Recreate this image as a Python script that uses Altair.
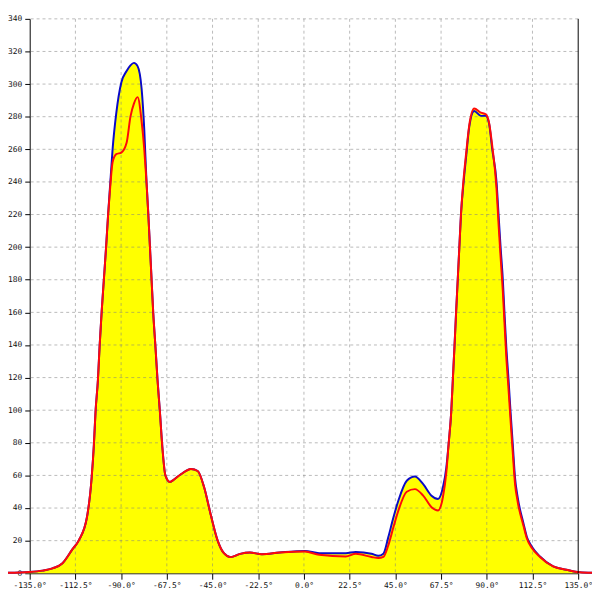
import altair as alt
import pandas as pd

# angle (degrees)
x_deg = [-149.6, -135.0, -128.7, -123.8, -119.0, -114.1, -110.7, -106.8, -104.5, -103.4,
         -102.6, -101.4, -100.6, -99.6, -98.5, -97.4, -96.4, -95.3, -94.2, -92.4,
         -89.9, -87.3, -85.4, -83.7, -81.9, -79.9, -78.6, -77.5, -76.6, -75.8,
         -75.0, -74.2, -73.1, -72.1, -70.9, -69.8, -68.2, -66.0, -64.5, -60.6,
         -55.6, -52.3, -49.1, -46.0, -42.6, -39.4, -36.1, -31.4, -26.6, -20.7,
         -12.0, 0.5, 7.5, 20.6, 25.5, 33.2, 36.6, 39.1, 41.5, 44.0,
         46.5, 50.6, 54.6, 58.7, 62.8, 66.0, 68.4, 70.1, 71.2, 72.5,
         73.3, 74.1, 74.9, 75.7, 76.5, 77.3, 78.6, 79.8, 81.4, 83.8,
         87.1, 89.5, 91.1, 92.7, 94.8, 95.8, 96.8, 97.9, 98.7, 99.6,
         100.7, 101.7, 102.8, 103.9, 105.2, 108.1, 109.7, 112.2, 116.2, 122.7,
         129.2, 135.7, 142.2]

blue_vals = [0.2, 0.8, 1.6, 3.0, 6.0, 14.5, 20.5, 34.5, 58.7, 79,
             99, 119, 139, 160, 180, 200, 220, 240, 260, 282,
             301, 308, 311.5, 313, 311, 297, 272, 240, 220, 200,
             180, 160, 139, 119, 99, 79, 60, 56, 57, 60.7,
             64, 62.7, 52.6, 36.5, 20.5, 12.3, 9.9, 11.9, 12.7, 11.7,
             12.7, 13.7, 12.3, 12.3, 13.1, 12.0, 10.7, 12.0, 22.0, 34.0,
             44.6, 56.7, 59.3, 54.6, 47.6, 45.6, 52.6, 65, 79, 99,
             119, 139, 160, 180, 200, 220, 240, 255, 274, 283.5,
             280.5, 280.5, 276, 260, 240, 220, 200, 180, 160, 139,
             119, 99, 79, 58.7, 46.6, 30.4, 22.4, 16.3, 10.3, 4.2,
             2.2, 0.6, 0.3]

red_vals = [0.2, 0.8, 1.6, 3.0, 6.0, 14.5, 20.5, 34.5, 58.7, 79,
            99, 119, 139, 160, 180, 200, 220, 238, 252, 257,
            258, 264, 280, 288, 292, 277, 260, 240, 220, 200,
            180, 160, 139, 119, 99, 79, 60, 56, 57, 60.7,
            64, 62.7, 52.6, 36.5, 20.5, 12.3, 9.9, 11.9, 12.7, 11.7,
            12.7, 13.3, 11.3, 10.3, 11.9, 10.0, 9.3, 10.0, 17.0, 28.0,
            38.5, 50.0, 51.6, 47.6, 40.5, 38.5, 46.6, 62, 79, 99,
            119, 139, 160, 180, 200, 220, 242, 257, 275, 285,
            282.5, 281.5, 276.5, 262, 236, 214, 194, 173, 154, 133,
            113, 94, 74, 55, 44, 29, 21.5, 15.5, 10.0, 4.2,
            2.2, 0.6, 0.3]

x_ticks = [-135.0, -112.5, -90.0, -67.5, -45.0, -22.5, 0.0, 22.5, 45.0, 67.5, 90.0, 112.5, 135.0]
y_ticks = list(range(0, 341, 20))

df = pd.DataFrame({"x": x_deg, "blue": blue_vals, "red": red_vals})
df["top"] = df[["blue", "red"]].max(axis=1)

FONT = "DejaVu Sans Mono"

xscale = alt.Scale(domain=[-135, 135], nice=False, zero=False)
yscale = alt.Scale(domain=[0, 340], nice=False, zero=False)

xaxis = alt.Axis(values=x_ticks, grid=False, domainColor="black", tickColor="black",
                 tickSize=6, labelPadding=2, labelFont=FONT, labelFontSize=8,
                 labelColor="#111", title=None, labelOverlap=False, labelFlush=False,
                 labelExpr="(datum.value < 0 ? '-' : '') + format(abs(datum.value), '.1f') + '°'")
yaxis = alt.Axis(values=y_ticks, grid=False, domainColor="black", tickColor="black",
                 tickSize=5, labelPadding=3, labelFont=FONT, labelFontSize=8,
                 labelColor="#111", title=None, labelOverlap=False, labelFlush=False)

area = alt.Chart(df).mark_area(color="#ffff00", interpolate="monotone").encode(
    x=alt.X("x:Q", scale=xscale, axis=xaxis),
    y=alt.Y("top:Q", scale=yscale, axis=yaxis),
)

vgrid = alt.Chart(pd.DataFrame({"v": x_ticks[1:-1]})).mark_rule(
    color="#808080", opacity=0.55, strokeDash=[3, 3], strokeWidth=1
).encode(x=alt.X("v:Q", scale=xscale, axis=xaxis))

hgrid = alt.Chart(pd.DataFrame({"h": y_ticks[1:]})).mark_rule(
    color="#808080", opacity=0.55, strokeDash=[3, 3], strokeWidth=1
).encode(y=alt.Y("h:Q", scale=yscale, axis=yaxis))

blue_line = alt.Chart(df).mark_line(color="#0a0ac8", strokeWidth=2, interpolate="monotone").encode(
    x=alt.X("x:Q", scale=xscale, axis=xaxis), y=alt.Y("blue:Q", scale=yscale, axis=yaxis))
red_line = alt.Chart(df).mark_line(color="#ff0a0a", strokeWidth=2, interpolate="monotone").encode(
    x=alt.X("x:Q", scale=xscale, axis=xaxis), y=alt.Y("red:Q", scale=yscale, axis=yaxis))

right_border = alt.Chart(pd.DataFrame({"r": [135]})).mark_rule(color="black", strokeWidth=1).encode(
    x=alt.X("r:Q", scale=xscale, axis=xaxis))

chart = alt.layer(area, vgrid, hgrid, blue_line, red_line, right_border).properties(
    width=556, height=562,
    autosize=alt.AutoSizeParams(type="none"),
    padding={"left": 22, "top": 7, "right": 14, "bottom": 15},
).configure_view(stroke=None)

chart.save("out.html", embed_options={"renderer": "svg", "actions": False})
